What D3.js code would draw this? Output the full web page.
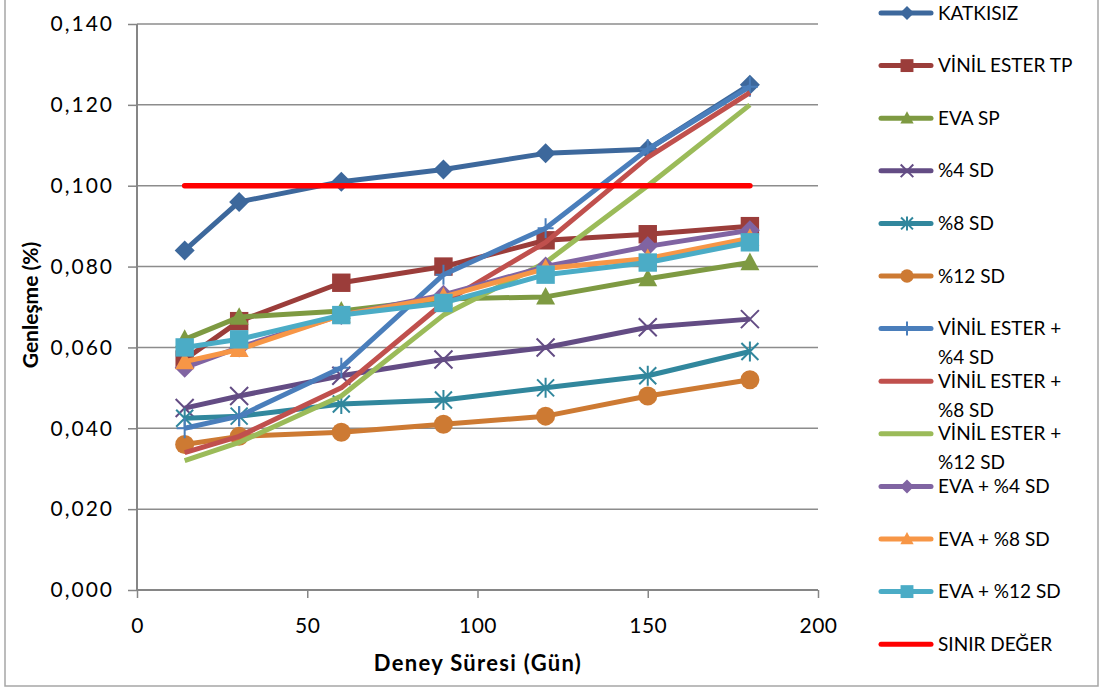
<!DOCTYPE html>
<html>
<head>
<meta charset="utf-8">
<script src="https://cdn.jsdelivr.net/npm/d3@7"></script>
<style>
  html, body { margin: 0; padding: 0; background: #fff; }
  svg { display: block; }
  text { font-family: Lato, "Open Sans", sans-serif; fill: #000; }
</style>
</head>
<body>
<svg id="chart" width="1103" height="691"></svg>
<script>
// ---- data ----
const days = [14, 30, 60, 90, 120, 150, 180];
const katkisiz      = [0.084, 0.096, 0.101, 0.104, 0.108, 0.109, 0.125];
const vinilEsterTP  = [0.057, 0.0665, 0.076, 0.080, 0.0865, 0.088, 0.090];
const evaSP         = [0.062, 0.0675, 0.069, 0.072, 0.0725, 0.077, 0.081];
const sd4           = [0.045, 0.048, 0.053, 0.057, 0.060, 0.065, 0.067];
const sd8           = [0.0425, 0.043, 0.046, 0.047, 0.050, 0.053, 0.059];
const sd12          = [0.036, 0.038, 0.039, 0.041, 0.043, 0.048, 0.052];
const ve4           = [0.040, 0.043, 0.055, 0.078, 0.0895, 0.109, 0.1245];
const ve8           = [0.034, 0.038, 0.050, 0.071, 0.086, 0.107, 0.123];
const ve12          = [0.032, 0.0365, 0.048, 0.068, 0.081, 0.100, 0.120];
const eva4          = [0.055, 0.060, 0.068, 0.073, 0.080, 0.085, 0.089];
const eva8          = [0.0565, 0.0595, 0.068, 0.0725, 0.0795, 0.082, 0.087];
const eva12         = [0.060, 0.062, 0.068, 0.071, 0.078, 0.081, 0.086];
const limitDays     = [14, 180];
const limitValues   = [0.100, 0.100];

const seriesNames = ["KATKISIZ", "VİNİL ESTER TP", "EVA SP", "%4 SD", "%8 SD", "%12 SD",
  "VİNİL ESTER + %4 SD", "VİNİL ESTER + %8 SD", "VİNİL ESTER + %12 SD",
  "EVA + %4 SD", "EVA + %8 SD", "EVA + %12 SD", "SINIR DEĞER"];
const legendLines = [["KATKISIZ"], ["VİNİL ESTER TP"], ["EVA SP"], ["%4 SD"], ["%8 SD"], ["%12 SD"],
  ["VİNİL ESTER +", "%4 SD"], ["VİNİL ESTER +", "%8 SD"], ["VİNİL ESTER +", "%12 SD"],
  ["EVA + %4 SD"], ["EVA + %8 SD"], ["EVA + %12 SD"], ["SINIR DEĞER"]];
const yTicks = [0, 0.02, 0.04, 0.06, 0.08, 0.10, 0.12, 0.14];
const xTicks = [0, 50, 100, 150, 200];

// ---- styles ----
const colors = ["#3D689C", "#9B3D3A", "#7E9A42", "#634C84", "#31879D", "#CD7A33",
  "#4A7EBB", "#C0504D", "#9BBB59", "#8064A2", "#F79646", "#4BACC6", "#FF0000"];
const markers = ["diamond", "square", "triangle", "x", "asterisk", "circle",
  "plus", null, null, "diamond", "triangle", "square", null];

const data = [
  days.map((d, i) => [d, katkisiz[i]]),
  days.map((d, i) => [d, vinilEsterTP[i]]),
  days.map((d, i) => [d, evaSP[i]]),
  days.map((d, i) => [d, sd4[i]]),
  days.map((d, i) => [d, sd8[i]]),
  days.map((d, i) => [d, sd12[i]]),
  days.map((d, i) => [d, ve4[i]]),
  days.map((d, i) => [d, ve8[i]]),
  days.map((d, i) => [d, ve12[i]]),
  days.map((d, i) => [d, eva4[i]]),
  days.map((d, i) => [d, eva8[i]]),
  days.map((d, i) => [d, eva12[i]]),
  limitDays.map((d, i) => [d, limitValues[i]])
];

const svg = d3.select("#chart");
const L = 137, R = 818, T = 24, B = 590;
const x = d3.scaleLinear().domain([0, 200]).range([L, R]);
const y = d3.scaleLinear().domain([0, 0.14]).range([B, T]);
const fmt = v => d3.format(".3f")(v).replace(".", ",");

// chart border
svg.append("rect").attr("x", 5).attr("y", -5).attr("width", 1093).attr("height", 691)
  .attr("fill", "none").attr("stroke", "#a6a6a6").attr("stroke-width", 1.5);

// gridlines
svg.append("g").selectAll("line").data(yTicks.slice(1)).join("line")
  .attr("x1", L).attr("x2", R).attr("y1", d => y(d)).attr("y2", d => y(d))
  .attr("stroke", "#8c8c8c").attr("stroke-width", 1.5);

// axes
const yAxis = svg.append("g").attr("transform", `translate(${L},0)`)
  .call(d3.axisLeft(y).tickValues(yTicks).tickFormat(fmt).tickSize(9).tickPadding(14));
const xAxis = svg.append("g").attr("transform", `translate(0,${B})`)
  .call(d3.axisBottom(x).tickValues(xTicks).tickSize(8).tickPadding(20));
[yAxis, xAxis].forEach(a => {
  a.select(".domain").attr("stroke", "#868686").attr("stroke-width", 2);
  a.selectAll(".tick line").attr("stroke", "#868686").attr("stroke-width", 1.5);
  a.selectAll(".tick text").style("font-family", "Lato, 'Open Sans', sans-serif")
    .style("font-size", "21px").attr("fill", "#000");
});
yAxis.selectAll(".tick text").style("letter-spacing", "2px");
xAxis.selectAll(".tick text").style("letter-spacing", "0.5px");
xAxis.select(".domain").attr("d", `M${L},0H${R}`);
yAxis.select(".domain").attr("d", `M0,${T}V${B}`);

// axis titles
svg.append("text").attr("x", 478).attr("y", 671).attr("text-anchor", "middle")
  .style("font-size", "22px").style("font-weight", "bold").style("letter-spacing", "1.3px")
  .text("Deney Süresi (Gün)");
svg.append("text").attr("transform", "translate(38,305) rotate(-90)").attr("text-anchor", "middle")
  .style("font-size", "21px").style("font-weight", "bold")
  .text("Genleşme (%)");

// marker drawer
function drawMarker(g, type, cx, cy, color, s) {
  const h = s / 2;
  if (type === "diamond") {
    g.append("path").attr("d", `M${cx},${cy - h}L${cx + h},${cy}L${cx},${cy + h}L${cx - h},${cy}Z`).attr("fill", color);
  } else if (type === "square") {
    const q = h * 0.92;
    g.append("rect").attr("x", cx - q).attr("y", cy - q).attr("width", 2 * q).attr("height", 2 * q).attr("fill", color);
  } else if (type === "triangle") {
    const q = h * 0.95;
    g.append("path").attr("d", `M${cx},${cy - q * 1.05}L${cx + q},${cy + q * 0.8}L${cx - q},${cy + q * 0.8}Z`).attr("fill", color);
  } else if (type === "circle") {
    g.append("circle").attr("cx", cx).attr("cy", cy).attr("r", h * 0.95).attr("fill", color);
  } else if (type === "x") {
    const q = h * 0.9;
    g.append("path").attr("d", `M${cx - q},${cy - q}L${cx + q},${cy + q}M${cx - q},${cy + q}L${cx + q},${cy - q}`)
      .attr("stroke", color).attr("stroke-width", 2).attr("fill", "none");
  } else if (type === "asterisk") {
    const q = h * 0.85;
    g.append("path").attr("d", `M${cx - q},${cy - q}L${cx + q},${cy + q}M${cx - q},${cy + q}L${cx + q},${cy - q}M${cx},${cy - h}L${cx},${cy + h}`)
      .attr("stroke", color).attr("stroke-width", 2).attr("fill", "none");
  } else if (type === "plus") {
    g.append("path").attr("d", `M${cx},${cy - h}L${cx},${cy + h}M${cx - h * 0.8},${cy}L${cx + h * 0.8},${cy}`)
      .attr("stroke", color).attr("stroke-width", 2).attr("fill", "none");
  }
}

// series
const line = d3.line().x(d => x(d[0])).y(d => y(d[1]));
data.forEach((pts, i) => {
  const g = svg.append("g");
  const isLimit = i === 12;
  g.append("path").attr("d", line(pts)).attr("fill", "none").attr("stroke", colors[i])
    .attr("stroke-width", isLimit ? 5.5 : 5).attr("stroke-linejoin", "round")
    .attr("stroke-linecap", isLimit ? "round" : "butt");
  if (markers[i]) pts.forEach(p => drawMarker(g, markers[i], x(p[0]), y(p[1]), colors[i], 20));
});

// legend
const lg = svg.append("g");
seriesNames.forEach((n, i) => {
  const cy = 13 + i * 52.6;
  const g = lg.append("g");
  g.append("line").attr("x1", 881).attr("x2", 931).attr("y1", cy).attr("y2", cy)
    .attr("stroke", colors[i]).attr("stroke-width", 5).attr("stroke-linecap", "round");
  if (markers[i]) drawMarker(g, markers[i], 907, cy, colors[i], 14);
  legendLines[i].forEach((t, k) => {
    g.append("text").attr("x", 938).attr("y", cy + k * 29).attr("dy", "0.35em")
      .style("font-size", "19px").text(t);
  });
});
</script>
</body>
</html>
